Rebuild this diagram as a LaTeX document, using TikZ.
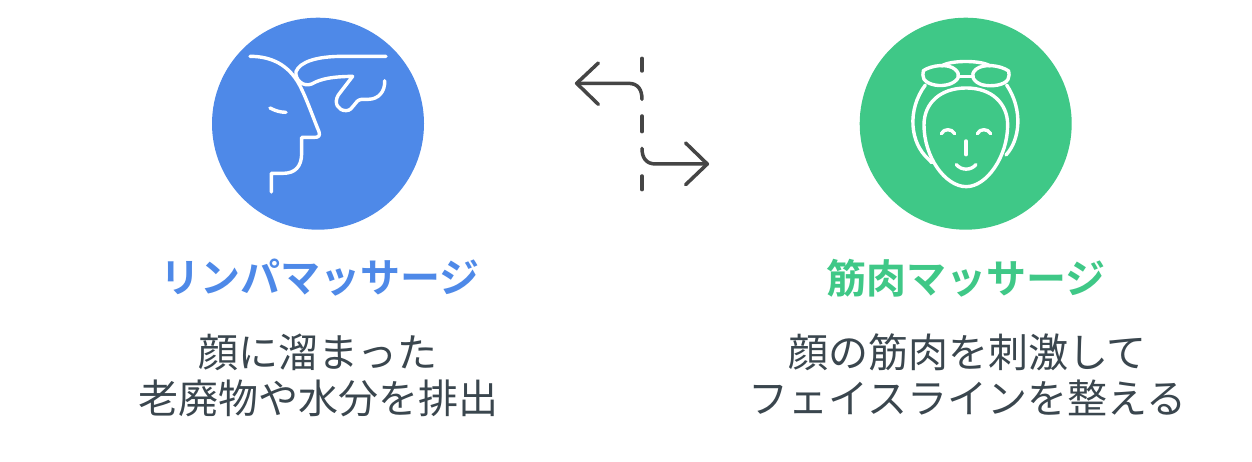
\documentclass[tikz,border=0pt]{standalone}
\usepackage{fontspec}
\setmainfont{Noto Sans CJK JP}
\newfontfamily\jpbold{Noto Sans CJK JP Bold}
\definecolor{bluefill}{HTML}{4E89E8}
\definecolor{greenfill}{HTML}{3FC887}
\definecolor{bodytext}{HTML}{3A464E}
\definecolor{arrowgrey}{HTML}{454545}
\tikzset{
  disc/.style={circle,inner sep=0pt,minimum size=212pt},
  icon/.style={draw=white,line width=3.4pt,line cap=round,line join=round,fill=none},
  arrowline/.style={draw=arrowgrey,line width=3.5pt,line cap=round,line join=round,fill=none},
  title/.style={font=\jpbold\fontsize{40pt}{46pt}\selectfont,inner sep=0pt,anchor=center},
  body/.style={font=\fontsize{40}{46}\selectfont,text=bodytext,inner sep=0pt,align=center,anchor=center},
}
\begin{document}
\begin{tikzpicture}[x=1pt,y=-1pt]
\useasboundingbox (0,0) rectangle (1252,462);
\fill[white] (0,0) rectangle (1252,462);
\node[disc,fill=bluefill] (leftdisc) at (318,123.7) {};
\node[disc,fill=greenfill] (rightdisc) at (965.7,123.7) {};
\node[title,text=bluefill] (lefttitle) at (320,278) {リンパマッサージ};
\node[title,text=greenfill] (righttitle) at (966,278) {筋肉マッサージ};
\node[body] (leftbody) at (318,375) {顔に溜まった\\老廃物や水分を排出};
\node[body] (rightbody) at (967.5,375) {顔の筋肉を刺激して\\フェイスラインを整える};
% left icon
\begin{scope}[shift={(200,10)},x=0.3333pt,y=-0.3333pt]
\draw[icon] (150,139) .. controls (215,139) and (265,165) .. (297,222)
  .. controls (320,265) and (340,325) .. (357,365)
  .. controls (361,378) and (355,382) .. (345,382)
  -- (305,382) -- (305,430)
  .. controls (305,470) and (285,490) .. (250,490) -- (214,490) -- (214,546);
\draw[icon] (210,294) .. controls (225,302) and (240,307) .. (258,307);
\draw[icon] (558,139) -- (430,139)
  .. controls (350,139) and (300,155) .. (288,185)
  .. controls (285,210) and (310,232) .. (335,222)
  .. controls (365,205) and (400,200) .. (458,199)
  -- (415,255)
  .. controls (400,280) and (415,302) .. (438,302)
  .. controls (462,302) and (462,270) .. (485,268)
  -- (505,268)
  .. controls (535,268) and (556,245) .. (554,212);
\end{scope}
% right icon
\begin{scope}[shift={(850,10)},x=0.3333pt,y=-0.3333pt]
\draw[icon] (349,234) .. controls (270,234) and (222,280) .. (222,345)
  .. controls (222,440) and (285,530) .. (349,530)
  .. controls (410,530) and (473,440) .. (473,345)
  .. controls (473,280) and (425,234) .. (349,234) -- cycle;
\draw[icon] (220,182) .. controls (245,165) and (295,160) .. (315,178)
  .. controls (335,195) and (325,212) .. (300,222)
  .. controls (270,232) and (235,225) .. (222,208)
  .. controls (218,200) and (218,190) .. (220,182) -- cycle;
\draw[icon] (476,183) .. controls (450,165) and (400,160) .. (378,178)
  .. controls (358,195) and (370,215) .. (395,224)
  .. controls (425,232) and (465,225) .. (474,208)
  .. controls (478,200) and (478,190) .. (476,183) -- cycle;
\draw[icon] (328,200) -- (365,200);
\draw[icon] (275,168) .. controls (300,150) and (395,150) .. (420,168);
\draw[icon] (226,225) .. controls (170,300) and (180,400) .. (236,448) -- (245,458);
\draw[icon] (470,225) .. controls (520,300) and (510,390) .. (468,435);
\draw[icon] (274,371) .. controls (282,355) and (305,355) .. (314,371);
\draw[icon] (382,371) .. controls (390,355) and (413,355) .. (422,371);
\draw[icon] (348,393) -- (348,434);
\draw[icon] (319,464) .. controls (335,482) and (362,482) .. (378,464);
\end{scope}
% connectors
\begin{scope}[shift={(560,40)},x=0.3333pt,y=-0.3333pt]
\coordinate (dashtop) at (246,55);
\coordinate (dashtopend) at (246,93);
\coordinate (leftcurve) at (246,178);
\coordinate (lefttip) at (50,130);
\coordinate (dashmid) at (246,228);
\coordinate (dashmidend) at (246,275);
\coordinate (rightcurve) at (246,325);
\coordinate (righttip) at (442,372);
\coordinate (dashlow) at (246,408);
\coordinate (dashlowend) at (246,449);
\draw[arrowline] (dashtop) -- (dashtopend);
\draw[arrowline] (dashmid) -- (dashmidend);
\draw[arrowline] (dashlow) -- (dashlowend);
\draw[arrowline] (leftcurve) .. controls (246,150) and (235,130) .. (205,130) -- (lefttip);
\draw[arrowline] (115,69) -- (lefttip) -- (115,193);
\draw[arrowline] (rightcurve) .. controls (246,352) and (257,372) .. (287,372) -- (righttip);
\draw[arrowline] (377,309) -- (righttip) -- (377,434);
\end{scope}
\end{tikzpicture}
\end{document}
